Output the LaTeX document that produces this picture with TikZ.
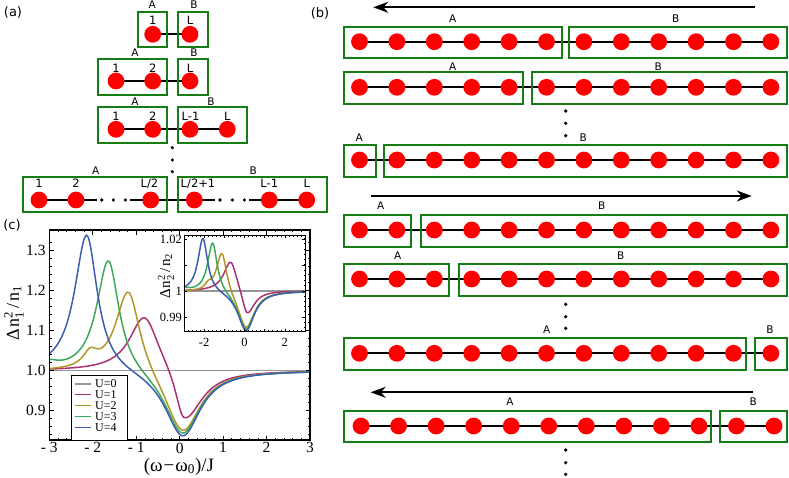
\documentclass[tikz,border=0pt]{standalone}
\usepackage{fontspec}
\usepackage{amsmath}
\setmainfont{Liberation Serif}
\newfontfamily\dvs{DejaVu Sans}
\usetikzlibrary{arrows.meta,backgrounds}
\definecolor{boxgreen}{RGB}{20,125,20}
\definecolor{cUa}{RGB}{150,150,150}
\definecolor{cUb}{RGB}{170,50,115}
\definecolor{cUc}{RGB}{178,150,40}
\definecolor{cUd}{RGB}{60,170,90}
\definecolor{cUe}{RGB}{60,95,175}
\tikzset{
  site/.style={circle,fill=red,minimum size=16.8pt,inner sep=0pt},
  chainln/.style={line width=1.9pt,black},
  grbox/.style={draw=boxgreen,line width=1.8pt},
  lbla/.style={font=\dvs\fontsize{10.5}{11}\selectfont,inner sep=0pt,anchor=base},
  lblb/.style={font=\dvs\fontsize{10.5}{11}\selectfont,inner sep=0pt,anchor=base},
  numl/.style={font=\dvs\fontsize{11.5}{12}\selectfont,inner sep=0pt,anchor=base},
  dotn/.style={circle,fill=black,minimum size=3.6pt,inner sep=0pt},
  arr/.style={line width=1.9pt,-{Stealth[length=15pt,width=11pt]}},
  panel/.style={font=\dvs\fontsize{13}{14}\selectfont,inner sep=0pt},
  curve/.style={line width=1.5pt},
  tickl/.style={font=\fontsize{15.5}{16}\selectfont,inner sep=0pt},
  itickl/.style={font=\fontsize{12.5}{13}\selectfont,inner sep=0pt},
  legt/.style={font=\fontsize{12}{12}\selectfont,inner sep=0pt,anchor=west},
  legl/.style={line width=1.1pt},
  declare function={
    La(\t,\p,\wa,\wb)=(\t<\p) ? 1/(1+((\t-\p)/\wa)*((\t-\p)/\wa)) : 1/(1+((\t-\p)/\wb)*((\t-\p)/\wb));
  }
}
\newcommand{\chainrow}[4]{%
  \foreach \i in {0,...,11}{\node[site] (#1\i) at ({#3+#4*\i},#2) {};}%
  \begin{pgfonlayer}{background}\draw[chainln] (#10.center) -- (#111.center);\end{pgfonlayer}%
}
\begin{document}
\begin{tikzpicture}[x=1pt,y=-1pt]
\useasboundingbox (0,0) rectangle (789,478);

% panel labels
\node[panel] (pa) at (13,12) {(a)};
\node[panel] (pb) at (320,13) {(b)};
\node[panel] (pc) at (12,225) {(c)};

% ================= panel (a)
% row 1
\node[site] (a1s1) at (152.7,34.3) {};
\node[site] (a1s2) at (190,34.3) {};
\begin{pgfonlayer}{background}\draw[chainln] (a1s1.center) -- (a1s2.center);\end{pgfonlayer}
\draw[grbox] (137.7,11.7) rectangle (166.7,47.3);
\draw[grbox] (178.3,11.7) rectangle (207.7,47.3);
\node[numl] (a1n1) at (152.7,24.7) {1};
\node[numl] (a1n2) at (190,24.7) {L};
\node[lbla] (a1A) at (152.2,8.8) {A};
\node[lbla] (a1B) at (194,8.8) {B};
% row 2
\node[site] (a2s1) at (116,81) {};
\node[site] (a2s2) at (152.7,81) {};
\node[site] (a2s3) at (190,81) {};
\begin{pgfonlayer}{background}\draw[chainln] (a2s1.center) -- (a2s3.center);\end{pgfonlayer}
\draw[grbox] (98.3,59.3) rectangle (166.7,95);
\draw[grbox] (178.3,59.3) rectangle (207.7,95);
\node[numl] (a2n1) at (116,72.3) {1};
\node[numl] (a2n2) at (152.7,72.3) {2};
\node[numl] (a2n3) at (190,72.3) {L};
\node[lbla] (a2A) at (135,57) {A};
\node[lbla] (a2B) at (194,57) {B};
% row 3
\node[site] (a3s1) at (116,129.3) {};
\node[site] (a3s2) at (152.7,129.3) {};
\node[site] (a3s3) at (190,129.3) {};
\node[site] (a3s4) at (227.3,129.3) {};
\begin{pgfonlayer}{background}\draw[chainln] (a3s1.center) -- (a3s4.center);\end{pgfonlayer}
\draw[grbox] (98.3,107.3) rectangle (166.7,143.3);
\draw[grbox] (178.3,107.3) rectangle (247.3,143.3);
\node[numl] (a3n1) at (116,120.7) {1};
\node[numl] (a3n2) at (152.7,120.7) {2};
\node[numl] (a3n3) at (190.5,120.7) {L-1};
\node[numl] (a3n4) at (227.3,120.7) {L};
\node[lbla] (a3A) at (135,105.4) {A};
\node[lbla] (a3B) at (211,105.4) {B};
% vertical dots
\node[dotn] (av1) at (172.3,147.7) {};
\node[dotn] (av2) at (172.3,160) {};
\node[dotn] (av3) at (172.3,171.7) {};
% row 4
\node[site] (a4s1) at (39,200) {};
\node[site] (a4s2) at (76,200) {};
\node[site] (a4s3) at (150.7,200) {};
\node[site] (a4s4) at (194.3,200) {};
\node[site] (a4s5) at (269.3,200) {};
\node[site] (a4s6) at (306.7,200) {};
\coordinate (a4c1) at (96.7,200);
\coordinate (a4c2) at (130,200);
\coordinate (a4c3) at (215,200);
\coordinate (a4c4) at (249.3,200);
\begin{pgfonlayer}{background}
\draw[chainln] (a4s1.center) -- (a4c1);
\draw[chainln] (a4c2) -- (a4c3);
\draw[chainln] (a4c4) -- (a4s6.center);
\end{pgfonlayer}
\node[dotn] (ah1) at (101.7,200) {};
\node[dotn] (ah2) at (113.3,200) {};
\node[dotn] (ah3) at (125.3,200) {};
\node[dotn] (ah4) at (220,200) {};
\node[dotn] (ah5) at (232.3,200) {};
\node[dotn] (ah6) at (244.3,200) {};
\draw[grbox] (22.7,176.7) rectangle (166.7,212.3);
\draw[grbox] (178.3,176.7) rectangle (326.7,212.3);
\node[numl] (a4n1) at (39,187.3) {1};
\node[numl] (a4n2) at (76,187.3) {2};
\node[numl] (a4n3) at (149.5,187.3) {L/2};
\node[numl] (a4n4) at (198,187.3) {L/2+1};
\node[numl] (a4n5) at (269.3,187.3) {L-1};
\node[numl] (a4n6) at (306.7,187.3) {L};
\node[lbla] (a4A) at (95.7,174.4) {A};
\node[lbla] (a4B) at (253.3,174.4) {B};

% ================= panel (b)
\coordinate (ar1a) at (755,7.3);
\coordinate (ar1b) at (373.3,7.3);
\draw[arr] (ar1a) -- (ar1b);
\coordinate (ar2a) at (370.7,196);
\coordinate (ar2b) at (751.7,196);
\draw[arr] (ar2a) -- (ar2b);
\coordinate (ar3a) at (752.7,392.3);
\coordinate (ar3b) at (370.7,392.3);
\draw[arr] (ar3a) -- (ar3b);

\chainrow{b1-}{41.7}{359.5}{37.4}
\draw[grbox] (344,26.7) rectangle (562.3,58.3);
\draw[grbox] (569,26.7) rectangle (786.7,58.3);
\node[lblb] (b1A) at (452.7,22.1) {A};
\node[lblb] (b1B) at (675.7,22.1) {B};

\chainrow{b2-}{87.3}{359.5}{37.4}
\draw[grbox] (344,72.3) rectangle (523.3,104);
\draw[grbox] (531.7,72.3) rectangle (786.7,104);
\node[lblb] (b2A) at (452.7,70.5) {A};
\node[lblb] (b2B) at (658.3,70.5) {B};

\node[dotn] (bd1) at (565.7,111) {};
\node[dotn] (bd2) at (565.7,123.3) {};
\node[dotn] (bd3) at (565.7,135.7) {};

\chainrow{b3-}{160}{359.5}{37.4}
\draw[grbox] (344,145) rectangle (375.7,176.7);
\draw[grbox] (384.3,145) rectangle (786.7,176.7);
\node[lblb] (b3A) at (359.3,141.1) {A};
\node[lblb] (b3B) at (583.3,141.1) {B};

\chainrow{b4-}{230}{359.5}{37.4}
\draw[grbox] (344,215) rectangle (411,246.7);
\draw[grbox] (420.7,215) rectangle (786.7,246.7);
\node[lblb] (b4A) at (380.7,209.8) {A};
\node[lblb] (b4B) at (601.7,209.8) {B};

\chainrow{b5-}{279}{359.5}{37.4}
\draw[grbox] (344,264) rectangle (449.3,296);
\draw[grbox] (459.3,264) rectangle (786.7,296);
\node[lblb] (b5A) at (397.7,259.5) {A};
\node[lblb] (b5B) at (620.7,259.5) {B};

\node[dotn] (bd4) at (565.7,304.3) {};
\node[dotn] (bd5) at (565.7,316.7) {};
\node[dotn] (bd6) at (565.7,328.3) {};

\chainrow{b6-}{353.3}{359.5}{37.4}
\draw[grbox] (344,338.3) rectangle (745.7,370);
\draw[grbox] (755,338.3) rectangle (786.7,370);
\node[lblb] (b6A) at (546.7,333.8) {A};
\node[lblb] (b6B) at (770,333.8) {B};

\chainrow{b7-}{426}{361}{37.55}
\draw[grbox] (344,410.7) rectangle (710.7,442.3);
\draw[grbox] (720,410.7) rectangle (786.7,442.3);
\node[lblb] (b7A) at (510,405.5) {A};
\node[lblb] (b7B) at (753.3,405.5) {B};

\node[dotn] (bd7) at (565.7,450) {};
\node[dotn] (bd8) at (565.7,462.7) {};
\node[dotn] (bd9) at (565.7,474.3) {};

% ================= panel (c): main plot
\begin{scope}[shift={(179.65,370.7)},x=43.45pt,y=400pt]
  \begin{scope}
    \clip (-3,-0.17325) rectangle (3,0.35175);
    \draw[cUa,curve] (-3,0) -- (3,0);
    \draw[cUb,curve] plot[domain=-3:3,samples=220] (\x,{0.142*La(\x,-0.81,0.42,0.4)-0.14*La(\x,0.1,0.25,0.5)});
    \draw[cUc,curve] plot[domain=-3:3,samples=220] (\x,{0.217*La(\x,-1.18,0.36,0.33)+0.035*La(\x,-2.06,0.2,0.2)-0.163*La(\x,0.07,0.5,0.5)});
    \draw[cUd,curve] plot[domain=-3:3,samples=220] (\x,{0.287*La(\x,-1.64,0.33,0.3)+0.016*La(\x,-3,0.25,0.25)-0.1645*La(\x,0.07,0.5,0.5)});
    \draw[cUe,curve] plot[domain=-3:3,samples=220] (\x,{0.347*La(\x,-2.14,0.34,0.3)-0.169*La(\x,0.07,0.5,0.5)});
  \end{scope}
  \draw[line width=1.5pt] (-3,-0.17325) rectangle (3,0.35175);
  \foreach \t in {-2,...,2}{
    \draw[line width=0.7pt] (\t,-0.17325) -- ++(0pt,4.5pt);
    \draw[line width=0.7pt] (\t,0.35175) -- ++(0pt,-4.5pt);
  }
  \foreach \t in {-2.8,-2.6,...,2.8}{
    \draw[line width=0.6pt] (\t,-0.17325) -- ++(0pt,2.2pt);
    \draw[line width=0.6pt] (\t,0.35175) -- ++(0pt,-2.2pt);
  }
  \foreach \v in {-0.1,0,0.1,0.2,0.3}{
    \draw[line width=0.7pt] (-3,\v) -- ++(4.5pt,0pt);
    \draw[line width=0.7pt] (3,\v) -- ++(-4.5pt,0pt);
  }
  \foreach \v in {-0.16,-0.14,...,0.34}{
    \draw[line width=0.6pt] (-3,\v) -- ++(2.2pt,0pt);
    \draw[line width=0.6pt] (3,\v) -- ++(-2.2pt,0pt);
  }
  \foreach \t/\s [count=\k] in {-3/{- 3},-2/{- 2},-1/{- 1},0/0,1/1,2/2,3/3}
    \node[tickl,anchor=north,yshift=-2.5pt] (xtl\k) at (\t,-0.17325) {\s};
  \foreach \v/\s [count=\k] in {-0.1/0.9,0/1.0,0.1/1.1,0.2/1.2,0.3/1.3}
    \node[tickl,anchor=east,xshift=-3.5pt] (ytl\k) at (-3,\v) {\s};
\end{scope}

\node[rotate=90,font=\fontsize{18}{18}\selectfont,inner sep=0pt] (ylab) at (14,313)
  {$\text{Δ}\kern1.5pt\text{n}^{\text{2}}_{\text{1}}\kern2.5pt\text{/}\kern2.5pt\text{n}_{\text{1}}$};
\node[font=\fontsize{19}{19}\selectfont,inner sep=0pt] (xlab) at (179,466.5)
  {$\text{(ω}\kern1pt\text{−}\kern1pt\text{ω}_{\text{0}}\text{)/J}$};

% legend
\draw[fill=white,line width=0.6pt] (71.5,375) rectangle (127.5,440);
\coordinate (lga1) at (74.5,384);   \coordinate (lgb1) at (91,384);
\coordinate (lga2) at (74.5,394.7); \coordinate (lgb2) at (91,394.7);
\coordinate (lga3) at (74.5,405.5); \coordinate (lgb3) at (91,405.5);
\coordinate (lga4) at (74.5,416.5); \coordinate (lgb4) at (91,416.5);
\coordinate (lga5) at (74.5,427.8); \coordinate (lgb5) at (91,427.8);
\draw[legl,cUa] (lga1) -- (lgb1);
\draw[legl,cUb] (lga2) -- (lgb2);
\draw[legl,cUc] (lga3) -- (lgb3);
\draw[legl,cUd] (lga4) -- (lgb4);
\draw[legl,cUe] (lga5) -- (lgb5);
\node[legt] (lgt1) at (95,384) {U=0};
\node[legt] (lgt2) at (95,394.7) {U=1};
\node[legt] (lgt3) at (95,405.5) {U=2};
\node[legt] (lgt4) at (95,416.5) {U=3};
\node[legt] (lgt5) at (95,427.8) {U=4};

% ================= inset
\begin{scope}[shift={(244.5,291)},x=20.17pt,y=2600pt]
  \fill[white] (-3,-0.015577) rectangle (3,0.02135);
  \begin{scope}
    \clip (-3,-0.015577) rectangle (3,0.02135);
    \draw[cUa,curve] (-3,0) -- (3,0);
    \draw[cUb,curve] plot[domain=-3:3,samples=200] (\x,{0.0123*La(\x,-0.68,0.42,0.38)-0.0105*La(\x,0.12,0.3,0.45)});
    \draw[cUc,curve] plot[domain=-3:3,samples=200] (\x,{0.0164*La(\x,-1.12,0.33,0.3)+0.002*La(\x,-1.8,0.2,0.2)-0.0149*La(\x,0.08,0.5,0.5)});
    \draw[cUd,curve] plot[domain=-3:3,samples=200] (\x,{0.0196*La(\x,-1.58,0.3,0.28)+0.001*La(\x,-3,0.3,0.3)-0.0152*La(\x,0.08,0.5,0.5)});
    \draw[cUe,curve] plot[domain=-3:3,samples=200] (\x,{0.021*La(\x,-2.06,0.3,0.28)-0.0155*La(\x,0.08,0.5,0.5)});
  \end{scope}
  \draw[line width=0.8pt] (-3,-0.015577) rectangle (3,0.02135);
  \foreach \t in {-2,...,2}{
    \draw[line width=0.5pt] (\t,-0.015577) -- ++(0pt,3pt);
    \draw[line width=0.5pt] (\t,0.02135) -- ++(0pt,-3pt);
  }
  \foreach \t in {-2.8,-2.6,...,2.8}{
    \draw[line width=0.5pt] (\t,-0.015577) -- ++(0pt,1.5pt);
    \draw[line width=0.5pt] (\t,0.02135) -- ++(0pt,-1.5pt);
  }
  \foreach \v in {-0.01,0,0.01,0.02}{
    \draw[line width=0.5pt] (-3,\v) -- ++(3pt,0pt);
    \draw[line width=0.5pt] (3,\v) -- ++(-3pt,0pt);
  }
  \foreach \v in {-0.014,-0.012,...,0.021}{
    \draw[line width=0.5pt] (-3,\v) -- ++(1.5pt,0pt);
    \draw[line width=0.5pt] (3,\v) -- ++(-1.5pt,0pt);
  }
  \foreach \t [count=\k] in {-2,0,2}
    \node[itickl,anchor=north,yshift=-6.5pt] (ixt\k) at (\t,-0.015577) {\t};
  \foreach \v/\s [count=\k] in {-0.01/0.99,0/1,0.02/1.02}
    \node[itickl,anchor=east,xshift=-2pt] (iyt\k) at (-3,\v) {\s};
\end{scope}
\node[rotate=90,font=\fontsize{15}{15}\selectfont,inner sep=0pt] (iylab) at (166,276)
  {$\text{Δ}\kern1pt\text{n}^{\text{2}}_{\text{2}}\kern2pt\text{/}\kern2pt\text{n}_{\text{2}}$};
\end{tikzpicture}
\end{document}
